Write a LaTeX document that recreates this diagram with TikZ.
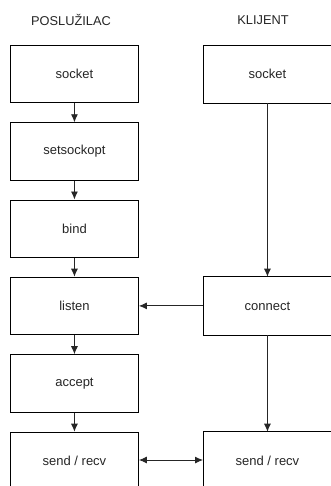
\documentclass[tikz,border=0pt]{standalone}
\usepackage{fontspec}
\setmainfont{Liberation Sans}
\usetikzlibrary{arrows.meta}
\begin{document}
\begin{tikzpicture}[x=1pt,y=-1pt,
  box/.style={draw=black, line width=0.9pt, fill=white, minimum width=128pt, minimum height=57.5pt, inner sep=0pt, anchor=north west, font=\fontsize{13}{15}\selectfont, text=black!85},
  rbox/.style={box, draw=none},
  boxline/.style={draw=black, line width=0.9pt},
  hdr/.style={font=\fontsize{12.8}{15}\selectfont, text=black!85},
  conn/.style={draw=black!85, line width=0.9pt, -{Latex[length=8pt,width=7pt]}},
  conn2/.style={draw=black!85, line width=0.9pt, {Latex[length=8pt,width=7pt]}-{Latex[length=8pt,width=7pt]}}]
\useasboundingbox (0,0) rectangle (330,486);
\fill[white] (0,0) rectangle (330,486);
\node[hdr] (h1) at (71,20) {POSLUŽILAC};
\node[hdr] (h2) at (263,20) {KLIJENT};
\node[box] (s1) at (10,45) {socket};
\node[box] (s2) at (10,122.3) {setsockopt};
\node[box] (s3) at (10,199.5) {bind};
\node[box] (s4) at (10,276.7) {listen};
\node[box] (s5) at (10,354.2) {accept};
\node[box] (s6) at (10,431.7) {send / recv};
\node[rbox] (c1) at (203,45) {socket};
\node[rbox] (c2) at (203,276.7) {connect};
\node[rbox] (c3) at (203,431.7) {send / recv};
\foreach \n in {c1,c2,c3}
  \draw[boxline] ([xshift=10pt]\n.north east) -- (\n.north west) -- (\n.south west) -- ([xshift=10pt]\n.south east);
\draw[conn] (s1) -- (s2);
\draw[conn] (s2) -- (s3);
\draw[conn] (s3) -- (s4);
\draw[conn] (s4) -- (s5);
\draw[conn] (s5) -- (s6);
\draw[conn] (c1) -- (c2);
\draw[conn] (c2) -- (c3);
\draw[conn] (c2.west) -- (s4.east);
\draw[conn2] (s6.east |- 0,460) -- (c3.west |- 0,460);
\end{tikzpicture}
\end{document}
